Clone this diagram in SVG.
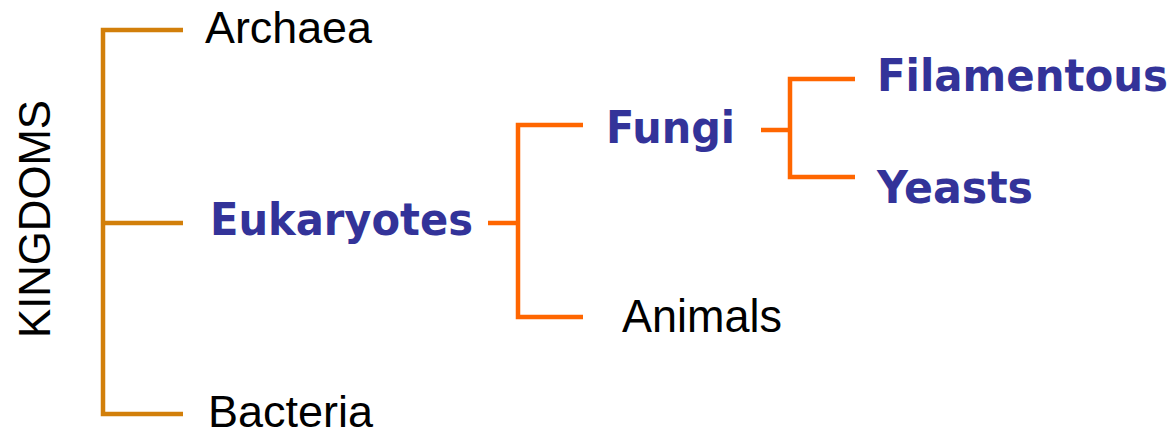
<svg xmlns="http://www.w3.org/2000/svg" width="1173" height="431" viewBox="0 0 1173 431">
  <style>
    .plain { font-family: "Liberation Sans", Arial, sans-serif; font-size: 44px; fill: #000000; }
    .taxon { font-family: "DejaVu Sans", Verdana, sans-serif; font-weight: bold; font-size: 44px; fill: #333399; }
    .gold { fill: none; stroke: #D27F0A; stroke-width: 4.5; stroke-linecap: butt; stroke-linejoin: miter; }
    .orange { fill: none; stroke: #FF6600; stroke-width: 4.5; stroke-linecap: butt; stroke-linejoin: miter; }
  </style>
  <rect width="1173" height="431" fill="#ffffff"/>

  <!-- connectors -->
  <g id="connectors">
    <path class="gold" d="M183 30 H103 V414 H183 M103 223 H183"/>
    <path class="orange" d="M488 223 H518"/>
    <path class="orange" d="M583 125 H518 V317 H583"/>
    <path class="orange" d="M761 130 H790"/>
    <path class="orange" d="M855 79 H790 V177 H855"/>
  </g>

  <!-- nodes -->
  <g id="kingdoms">
    <text class="plain" transform="translate(50 338) rotate(-90)" textLength="238" lengthAdjust="spacingAndGlyphs">KINGDOMS</text>
  </g>
  <g id="archaea">
    <text class="plain" x="205" y="43" textLength="167" lengthAdjust="spacingAndGlyphs">Archaea</text>
  </g>
  <g id="eukaryotes">
    <text class="taxon" x="210" y="235" textLength="263" lengthAdjust="spacingAndGlyphs">Eukaryotes</text>
  </g>
  <g id="bacteria">
    <text class="plain" x="208" y="427" textLength="165" lengthAdjust="spacingAndGlyphs">Bacteria</text>
  </g>
  <g id="fungi">
    <text class="taxon" x="606" y="143" textLength="129" lengthAdjust="spacingAndGlyphs">Fungi</text>
  </g>
  <g id="animals">
    <text class="plain" x="622" y="332" style="font-size:46px" textLength="160" lengthAdjust="spacingAndGlyphs">Animals</text>
  </g>
  <g id="filamentous">
    <text class="taxon" x="877" y="91" textLength="291" lengthAdjust="spacingAndGlyphs">Filamentous</text>
  </g>
  <g id="yeasts">
    <text class="taxon" x="877" y="203" textLength="156" lengthAdjust="spacingAndGlyphs">Yeasts</text>
  </g>
</svg>
